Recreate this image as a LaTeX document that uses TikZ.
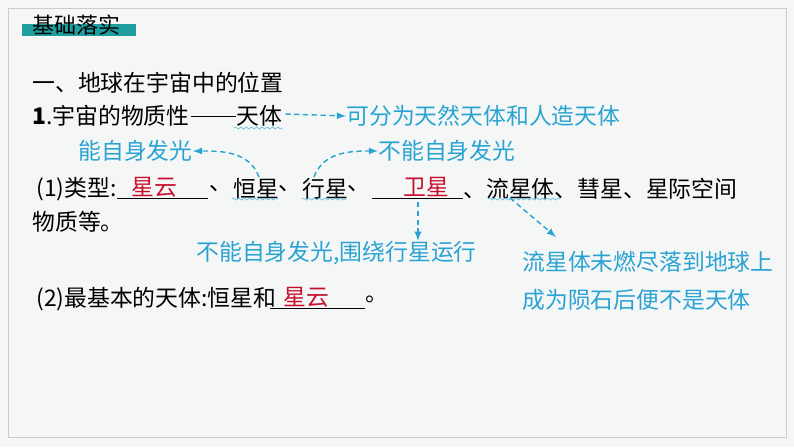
\documentclass[tikz,border=0pt]{standalone}
\usepackage{fontspec}
\setmainfont{Noto Sans CJK SC}
\usetikzlibrary{positioning,decorations.pathmorphing}
\definecolor{teal1}{HTML}{1E9E9E}
\definecolor{blue1}{HTML}{2AA3D3}
\definecolor{red1}{HTML}{C8102E}
\definecolor{bg1}{HTML}{F4F7F6}
\begin{document}
\begin{tikzpicture}
[
x=0.02cm, y=-0.02cm,
txt/.style={anchor=west, inner sep=0pt, font=\fontsize{13}{15}\selectfont},
bluetxt/.style={txt, text=blue1},
redtxt/.style={txt, text=red1},
darrow/.style={->, >=latex, blue1, dash pattern=on 3pt off 2pt, thick},
wavy/.style={blue1!70, decorate, decoration={snake, amplitude=0.6pt, segment length=3pt}},
blank/.style={black, thin},
]
    %Background
    \fill[bg1] (0,0) rectangle (794,447);
    \draw[gray!40] (8,8) rectangle (786,437);
    \fill[teal1] (22,24) rectangle (136,36);
    \node[txt, font=\fontsize{12.5}{14}\selectfont] (title) at (32,25) {基础落实};

    %Nodes
    \node[txt] (heading) at (32,83) {一、地球在宇宙中的位置};
    \node[txt] (point1) at (32,116) {\textbf{1}.宇宙的物质性};
    \node[txt] (tianti) at (236,116) {天体};
    \draw (point1.east) ++(1,0) coordinate (d1) (d1) -- (tianti.west);
    \node[bluetxt] (split) at (346,116) {可分为天然天体和人造天体};
    \node[bluetxt] (shine) at (78,151) {能自身发光};
    \node[bluetxt] (noshine) at (378,151) {不能自身发光};
    \node[txt] (type) at (36,189) {(1)类型:};
    \node[redtxt] (nebula) at (131,187) {星云};
    \node[txt] (sep1) at (209,189) {、};
    \node[txt] (star) at (233,189) {恒星};
    \node[txt] (sep2) at (278,189) {、};
    \node[txt] (planet) at (302,189) {行星};
    \node[txt] (sep3) at (347,189) {、};
    \node[redtxt] (moon) at (403,187) {卫星};
    \node[txt] (rest) at (463,189) {、流星体、彗星、星际空间};
    \node[txt] (rest2) at (32,222) {物质等。};
    \node[bluetxt] (moonnote) at (196,253) {不能自身发光,围绕行星运行};
    \node[bluetxt, align=left] (meteornote) at (522,281) {流星体未燃尽落到地球上\\[7pt]成为陨石后便不是天体};
    \node[txt] (point2) at (36,299) {(2)最基本的天体:恒星和};
    \node[redtxt] (nebula2) at (283,297) {星云};
    \node[txt] (dot) at (365,299) {。};

    %Blanks and underlines
    \draw[blank] (117,198) -- (208,198);
    \draw[blank] (372,198) -- (463,198);
    \draw[blank] (270,308) -- (365,308);
    \draw[wavy] (234,128) -- (283,128);
    \draw[wavy] (232,199) -- (278,199);
    \draw[wavy] (302,199) -- (347,199);
    \draw[wavy] (488,199) -- (560,199);

    %Lines
    \draw[darrow] (tianti.east) ++(3,-2) coordinate (t1) (t1) -- (split.west);
    \draw[darrow] (259,177) to[out=110,in=0] (shine.east);
    \draw[darrow] (314,177) to[out=70,in=180] (noshine.west);
    \draw[darrow] (418,202) -- (moonnote.north -| 418,0);
    \draw[darrow] (510,198) -- (556,237);
\end{tikzpicture}
\end{document}
